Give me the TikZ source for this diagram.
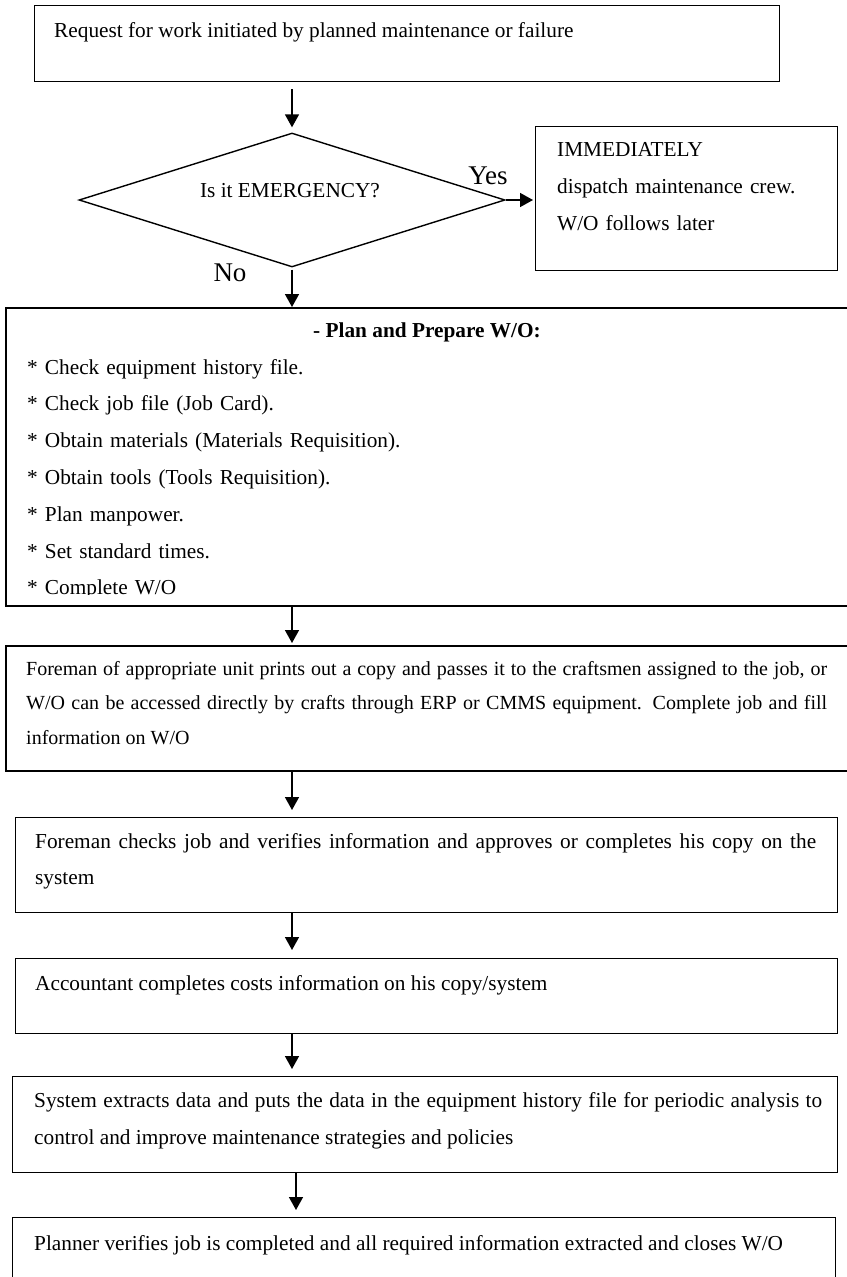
\documentclass[tikz,border=0pt]{standalone}
\usepackage{fontspec}
\setmainfont{Liberation Serif}
\usetikzlibrary{shapes.geometric, arrows.meta}

\begin{document}
\begin{tikzpicture}[x=1pt, y=-1pt,
  box/.style={draw, line width=1.4pt, anchor=north west, inner sep=0pt},
  txt/.style={inner sep=0pt, anchor=base west, font=\fontsize{21.3}{36.8}\selectfont},
  big/.style={font=\fontsize{27}{30}\selectfont, inner sep=0pt, anchor=base},
  arr/.style={line width=1.5pt, -{Triangle[length=13pt, width=14pt]}}]
  \useasboundingbox (0,0) rectangle (846,1277);
  % request box
  \node[box, minimum width=745pt, minimum height=76pt] (request) at (34,5) {};
  \node[txt] (requestText) at (54,37) {Request for work initiated by planned maintenance or failure};
  % emergency decision and the crew box on its right
  \node[draw, line width=1.4pt, diamond, inner sep=0pt,
        minimum width=426pt, minimum height=134pt] (emerg) at (292,200) {};
  \node[txt, anchor=base] (emergText) at (290,197) {Is it EMERGENCY?};
  \node[big] (yes) at (488,184) {Yes};
  \node[big] (no) at (230,281) {No};
  \node[box, minimum width=302pt, minimum height=144pt] (crew) at (535,126) {};
  \node[txt, text width=270pt, align=left, font=\fontsize{21.3}{37}\selectfont] (crewText) at (557,156)
    {IMMEDIATELY\\dispatch maintenance crew.\\W/O follows later};
  % plan and prepare W/O
  \node[box, line width=1.9pt, minimum width=850pt, minimum height=298pt] (plan) at (5,307) {};
  \node[txt, anchor=base, font=\bfseries\fontsize{21.3}{36.8}\selectfont] (planTitle) at (427,337)
    {- Plan and Prepare W/O:};
  \begin{scope}
    \clip (0,300) rectangle (846,594);
    \node[txt, text width=800pt, align=left] (planList) at (27,374)
      {{*} Check equipment history file.\\
       {*} Check job file (Job Card).\\
       {*} Obtain materials (Materials Requisition).\\
       {*} Obtain tools (Tools Requisition).\\
       {*} Plan manpower.\\
       {*} Set standard times.\\
       {*} Complete W/O};
  \end{scope}
  % foreman / craftsmen
  \node[box, line width=1.9pt, minimum width=850pt, minimum height=125pt] (craft) at (5,645) {};
  \node[txt, text width=801pt, align=justify, font=\fontsize{20}{34.5}\selectfont] (craftText) at (26,675)
    {Foreman of appropriate unit prints out a copy and passes it to the craftsmen assigned to the job, or\linebreak
     W/O can be accessed directly by crafts through ERP or CMMS equipment. Complete job and fill\linebreak
     information on W/O};
  % foreman checks
  \node[box, minimum width=822pt, minimum height=95pt] (check) at (15,817) {};
  \node[txt, text width=781pt, align=justify, font=\fontsize{21.3}{36}\selectfont] (checkText) at (35,848)
    {Foreman checks job and verifies information and approves or completes his copy on the\linebreak system};
  % accountant
  \node[box, minimum width=822pt, minimum height=75pt] (cost) at (15,958) {};
  \node[txt] (costText) at (35,990) {Accountant completes costs information on his copy/system};
  % history file
  \node[box, minimum width=825pt, minimum height=96pt] (history) at (12,1076) {};
  \node[txt, text width=788pt, align=justify, font=\fontsize{21.3}{37}\selectfont] (historyText) at (34,1107)
    {System extracts data and puts the data in the equipment history file for periodic analysis to\linebreak
     control and improve maintenance strategies and policies};
  % planner closes W/O
  \node[box, minimum width=823pt, minimum height=90pt] (close) at (12,1217) {};
  \node[txt] (closeText) at (34,1250)
    {Planner verifies job is completed and all required information extracted and closes W/O};
  % connectors
  \draw[arr, shorten <=7pt, shorten >=5pt] (request.south -| emerg.north) -- (emerg.north);
  \draw[arr, shorten >=2pt] (emerg.east) -- (crew.west |- emerg.east);
  \draw[arr, shorten <=2pt] (emerg.south) -- (plan.north -| emerg.south);
  \draw[arr, shorten >=2pt] (plan.south -| emerg.south) -- (craft.north -| emerg.south);
  \draw[arr, shorten >=7pt] (craft.south -| emerg.south) -- (check.north -| emerg.south);
  \draw[arr, shorten >=8pt] (check.south -| emerg.south) -- (cost.north -| emerg.south);
  \draw[arr, shorten >=7pt] (cost.south -| emerg.south) -- (history.north -| emerg.south);
  \draw[arr, shorten >=7pt] ([xshift=4pt]history.south -| emerg.south) -- ([xshift=4pt]close.north -| emerg.south);
\end{tikzpicture}
\end{document}
